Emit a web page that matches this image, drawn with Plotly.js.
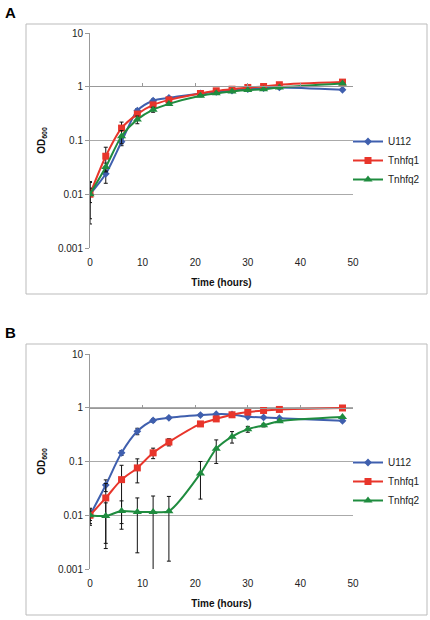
<!DOCTYPE html>
<html>
<head>
<meta charset="utf-8">
<script src="https://cdn.plot.ly/plotly-3.0.1.min.js"></script>
<style>html,body{margin:0;padding:0;background:#fff;}#chart{width:430px;height:620px;}</style>
</head>
<body>
<div id="chart"></div>
<script>
// ---- data ----
const times = [0, 3, 6, 9, 12, 15, 21, 24, 27, 30, 33, 36, 48];
const seriesNames = ["U112", "Tnhfq1", "Tnhfq2"];
const xTickVals = [0, 10, 20, 30, 40, 50];
const yTickVals = [0.001, 0.01, 0.1, 1, 10];
const yTickText = ["0.001", "0.01", "0.1", "1", "10"];

// Panel A
const U112_A   = [0.010, 0.024, 0.095, 0.36, 0.55, 0.62, 0.75, 0.80, 0.85, 0.90, 0.94, 0.97, 0.88];
const Tnhfq1_A = [0.010, 0.051, 0.17, 0.31, 0.46, 0.57, 0.75, 0.84, 0.90, 0.97, 1.01, 1.09, 1.22];
const Tnhfq2_A = [0.010, 0.032, 0.12, 0.245, 0.375, 0.48, 0.68, 0.76, 0.82, 0.87, 0.90, 0.97, 1.15];
const U112_A_err   = [0.0072, 0.008, 0.015, 0.03, 0.04, 0.04, 0.03, 0.03, 0.03, 0.03, 0.03, 0.03, 0.03];
const Tnhfq1_A_err = [0.0065, 0.024, 0.05, 0.03, 0.04, 0.04, 0.04, 0.03, 0.03, 0.03, 0.03, 0.03, 0.03];
const Tnhfq2_A_err = [0.003, 0.006, 0.033, 0.04, 0.04, 0.03, 0.03, 0.03, 0.03, 0.03, 0.03, 0.03, 0.03];

// Panel B
const U112_B   = [0.010, 0.0365, 0.145, 0.365, 0.58, 0.65, 0.73, 0.76, 0.75, 0.68, 0.66, 0.64, 0.57];
const Tnhfq1_B = [0.010, 0.021, 0.046, 0.076, 0.145, 0.23, 0.50, 0.62, 0.74, 0.83, 0.89, 0.93, 0.99];
const Tnhfq2_B = [0.010, 0.0097, 0.012, 0.0115, 0.0115, 0.0119, 0.060, 0.172, 0.29, 0.40, 0.47, 0.56, 0.67];
const U112_B_err   = [0.003, 0.009, 0.015, 0.05, 0.04, 0.03, 0.03, 0.02, 0.02, 0.02, 0.02, 0.02, 0.02];
const Tnhfq1_B_err = [0.002, 0.018, 0.039, 0.036, 0.032, 0.035, 0.03, 0.03, 0.03, 0.03, 0.03, 0.03, 0.03];
const Tnhfq2_B_err = [0.0035, 0.0073, 0.0065, 0.0095, 0.0113, 0.0105, 0.04, 0.08, 0.07, 0.05, 0.03, 0.02, 0.02];

// ---- styles ----
const colors = ["#3f5fae", "#e8352b", "#1f8c3f"];
const symbols = ["diamond", "square", "triangle-up"];
const msizes = [6, 7, 8];
const W = 430, H = 620;
const px = v => v / W;
const py = v => 1 - v / H;
const FONT = "Liberation Sans, Arial, sans-serif";

function mk(i, y, err, xa, ya, legend) {
  return {
    x: times, y: y, name: seriesNames[i], type: "scatter", mode: "lines+markers",
    xaxis: xa, yaxis: ya, legend: legend,
    line: {color: colors[i], width: 2, shape: "spline", smoothing: 0.8},
    marker: {color: colors[i], symbol: symbols[i], size: msizes[i]},
    error_y: {type: "data", array: err, visible: true, color: "#111", thickness: 1, width: 2}
  };
}

const data = [
  mk(0, U112_A, U112_A_err, "x", "y", "legend"),
  mk(1, Tnhfq1_A, Tnhfq1_A_err, "x", "y", "legend"),
  mk(2, Tnhfq2_A, Tnhfq2_A_err, "x", "y", "legend"),
  mk(0, U112_B, U112_B_err, "x2", "y2", "legend2"),
  mk(1, Tnhfq1_B, Tnhfq1_B_err, "x2", "y2", "legend2"),
  mk(2, Tnhfq2_B, Tnhfq2_B_err, "x2", "y2", "legend2"),
  {x: [null], y: [null], xaxis: "x3", yaxis: "y", showlegend: false, hoverinfo: "skip", type: "scatter"},
  {x: [null], y: [null], xaxis: "x4", yaxis: "y2", showlegend: false, hoverinfo: "skip", type: "scatter"}
];

const xDom = [px(90), px(353)];
const tickFont = {family: FONT, size: 10, color: "#222"};
function xAxis(anchor) {
  return {domain: xDom, range: [0, 50], anchor: anchor, showgrid: false, zeroline: false,
    showline: false, ticks: "outside", ticklen: 5, tickcolor: "rgba(0,0,0,0)",
    tickvals: xTickVals, tickfont: tickFont,
    title: {text: "<b>Time (hours)</b>", font: {family: FONT, size: 10, color: "#111"}, standoff: 11}};
}
function yAxis(anchor, dom) {
  return {domain: dom, type: "log", range: [-3, 1], anchor: anchor, tickvals: yTickVals, ticktext: yTickText,
    ticks: "outside", ticklen: 4, tickcolor: "#999", showline: true, linecolor: "#999", linewidth: 1,
    gridcolor: "#aaa", gridwidth: 1, zeroline: false, tickfont: tickFont,
    title: {text: "<b>OD<sub>600</sub></b>", font: {family: FONT, size: 10, color: "#111"}, standoff: 10}};
}
function overAxis(over, pos) {
  return {overlaying: over, anchor: "free", position: pos, domain: xDom, range: [0, 50],
    showline: true, linecolor: "#999", linewidth: 1, ticks: "inside", ticklen: 3, tickcolor: "#999",
    tickvals: xTickVals, showticklabels: false, showgrid: false, zeroline: false};
}

const layout = {
  width: W, height: H, margin: {l: 0, r: 0, t: 0, b: 0},
  paper_bgcolor: "#fff", plot_bgcolor: "rgba(0,0,0,0)",
  font: {family: FONT, size: 10, color: "#222"},
  xaxis: xAxis("y"),
  yaxis: yAxis("x", [py(248), py(33)]),
  xaxis2: xAxis("y2"),
  yaxis2: yAxis("x2", [py(569), py(354)]),
  xaxis3: overAxis("x", py(86)),
  xaxis4: overAxis("x2", py(408)),
  legend: {x: px(348), y: py(127), xanchor: "left", yanchor: "top", bgcolor: "rgba(0,0,0,0)",
    font: {family: FONT, size: 10, color: "#222"}, tracegroupgap: 0},
  legend2: {x: px(348), y: py(448), xanchor: "left", yanchor: "top", bgcolor: "rgba(0,0,0,0)",
    font: {family: FONT, size: 10, color: "#222"}, tracegroupgap: 0},
  showlegend: true,
  shapes: [
    {type: "rect", xref: "paper", yref: "paper", x0: px(26), x1: px(427), y0: py(294), y1: py(24),
      line: {color: "#bbb", width: 1}},
    {type: "rect", xref: "paper", yref: "paper", x0: px(26), x1: px(427), y0: py(615), y1: py(344),
      line: {color: "#bbb", width: 1}}
  ],
  annotations: [
    {text: "<b>A</b>", xref: "paper", yref: "paper", x: px(3), y: py(12), xanchor: "left", yanchor: "middle",
      showarrow: false, font: {family: FONT, size: 15, color: "#000"}},
    {text: "<b>B</b>", xref: "paper", yref: "paper", x: px(3), y: py(332), xanchor: "left", yanchor: "middle",
      showarrow: false, font: {family: FONT, size: 15, color: "#000"}}
  ]
};

Plotly.newPlot("chart", data, layout, {staticPlot: true, displayModeBar: false});
</script>
</body>
</html>
